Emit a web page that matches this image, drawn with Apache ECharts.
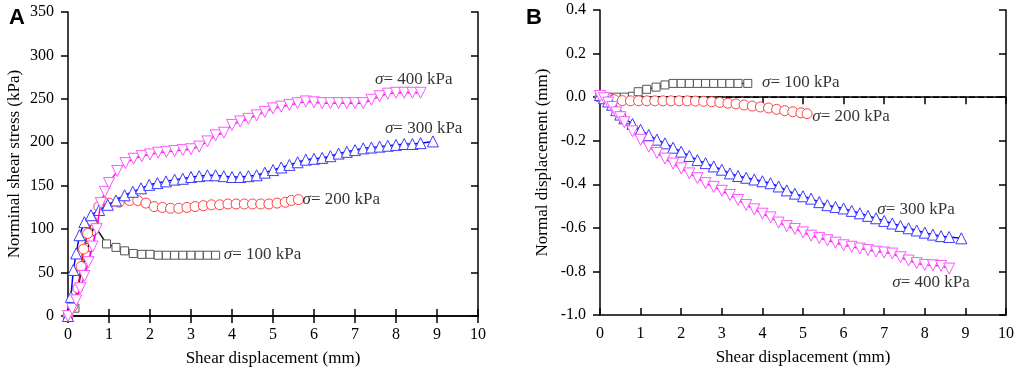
<!DOCTYPE html>
<html><head><meta charset="utf-8">
<script src="https://cdn.jsdelivr.net/npm/echarts@6/dist/echarts.min.js"></script>
<style>html,body{margin:0;padding:0;background:#fff}#c{width:1017px;height:380px}</style>
</head><body><div id="c"></div>
<script>
// ---- Panel A: shear stress (kPa) vs shear displacement (mm)
const a100x = [0, 0.17, 0.32, 0.44, 0.54, 0.64, 0.94, 1.17, 1.38, 1.59, 1.8, 2.0, 2.2, 2.4, 2.6, 2.8, 3.0, 3.2, 3.4, 3.6];
const a100y = [0, 9, 52, 70, 88, 105, 83, 79, 75, 72, 71, 71, 70, 70, 70, 70, 70, 70, 70, 70];
const a200x = [0, 0.11, 0.24, 0.32, 0.38, 0.48, 0.58, 0.75, 1.0, 1.25, 1.5, 1.7, 1.9, 2.1, 2.3, 2.5, 2.7, 2.9, 3.1, 3.3, 3.5, 3.7, 3.9, 4.1, 4.3, 4.5, 4.7, 4.9, 5.1, 5.3, 5.45, 5.62];
const a200y = [0, 11, 32, 57, 77, 95, 110, 126, 130, 131, 133, 133, 130, 126, 125, 124, 124, 125, 126, 127, 128, 128, 129, 129, 129, 129, 129, 129, 130, 131, 133, 134];
const a300x = [0, 0.07, 0.13, 0.2, 0.28, 0.4, 0.56, 0.76, 0.97, 1.17, 1.38, 1.58, 1.78, 1.98, 2.18, 2.39, 2.6, 2.8, 3.0, 3.2, 3.4, 3.6, 3.8, 4.0, 4.2, 4.4, 4.6, 4.8, 5.0, 5.2, 5.4, 5.6, 5.8, 6.0, 6.2, 6.4, 6.6, 6.8, 7.0, 7.2, 7.4, 7.6, 7.8, 8.0, 8.2, 8.4, 8.6, 8.9];
const a300y = [0, 22, 53, 72, 93, 108, 116, 122, 128, 133, 139, 143, 147, 151, 153, 155, 157, 158, 160, 161, 162, 162, 161, 160, 160, 161, 162, 165, 168, 171, 174, 177, 180, 181, 182, 184, 187, 189, 191, 193, 194, 195, 196, 197, 198, 198, 199, 201];
const a400x = [0, 0.1, 0.2, 0.3, 0.4, 0.5, 0.6, 0.7, 0.8, 0.9, 1.0, 1.2, 1.4, 1.6, 1.8, 2.0, 2.2, 2.4, 2.6, 2.8, 3.0, 3.2, 3.4, 3.6, 3.8, 4.0, 4.2, 4.4, 4.6, 4.8, 5.0, 5.2, 5.4, 5.6, 5.8, 6.0, 6.2, 6.4, 6.6, 6.8, 7.0, 7.2, 7.4, 7.6, 7.8, 8.0, 8.2, 8.4, 8.6];
const a400y = [0, 8, 18, 32, 46, 62, 80, 100, 130, 143, 153, 167, 176, 181, 184, 186, 188, 189, 190, 191, 192, 195, 201, 208, 211, 220, 224, 227, 231, 235, 239, 241, 243, 245, 247, 246, 245, 245, 245, 245, 245, 245, 249, 253, 256, 257, 257, 257, 257];
const aLabelX = [3.8, 5.72, 7.73, 7.49];
const aLabelY = [71, 134, 216, 272];

// ---- Panel B: normal displacement (mm) vs shear displacement (mm)
const b100x = [0, 0.2, 0.4, 0.6, 0.8, 0.94, 1.15, 1.38, 1.6, 1.8, 2.0, 2.2, 2.4, 2.6, 2.8, 3.0, 3.2, 3.4, 3.64];
const b100y = [0, 0, 0, 0, 0.004, 0.025, 0.036, 0.046, 0.056, 0.063, 0.063, 0.063, 0.063, 0.063, 0.063, 0.063, 0.063, 0.063, 0.063];
const b200x = [0, 0.15, 0.35, 0.55, 0.75, 0.95, 1.15, 1.35, 1.55, 1.75, 1.95, 2.15, 2.35, 2.55, 2.75, 2.95, 3.15, 3.35, 3.55, 3.75, 3.95, 4.15, 4.35, 4.55, 4.75, 4.95, 5.1];
const b200y = [0, -0.004, -0.012, -0.016, -0.017, -0.017, -0.017, -0.017, -0.017, -0.017, -0.017, -0.017, -0.018, -0.019, -0.021, -0.024, -0.028, -0.031, -0.036, -0.041, -0.045, -0.05, -0.056, -0.062, -0.067, -0.072, -0.076];
const b300x = [0, 0.1, 0.2, 0.3, 0.4, 0.5, 0.6, 0.8, 1.0, 1.2, 1.4, 1.6, 1.8, 2.0, 2.2, 2.4, 2.6, 2.8, 3.0, 3.2, 3.4, 3.6, 3.8, 4.0, 4.2, 4.4, 4.6, 4.8, 5.0, 5.2, 5.4, 5.6, 5.8, 6.0, 6.2, 6.4, 6.6, 6.8, 7.0, 7.2, 7.4, 7.6, 7.8, 8.0, 8.2, 8.4, 8.6, 8.9];
const b300y = [0.01, -0.005, -0.02, -0.035, -0.06, -0.08, -0.097, -0.123, -0.15, -0.174, -0.195, -0.212, -0.232, -0.25, -0.27, -0.289, -0.303, -0.318, -0.333, -0.35, -0.362, -0.37, -0.378, -0.386, -0.395, -0.41, -0.428, -0.443, -0.455, -0.466, -0.482, -0.496, -0.504, -0.511, -0.522, -0.533, -0.545, -0.556, -0.568, -0.58, -0.591, -0.602, -0.612, -0.622, -0.631, -0.638, -0.642, -0.648];
const b400x = [0, 0.1, 0.2, 0.3, 0.4, 0.5, 0.6, 0.8, 1.0, 1.2, 1.4, 1.6, 1.8, 2.0, 2.2, 2.4, 2.6, 2.8, 3.0, 3.2, 3.4, 3.6, 3.8, 4.0, 4.2, 4.4, 4.6, 4.8, 5.0, 5.2, 5.4, 5.6, 5.8, 6.0, 6.2, 6.4, 6.6, 6.8, 7.0, 7.2, 7.4, 7.6, 7.8, 8.0, 8.2, 8.4, 8.6];
const b400y = [0.005, -0.005, -0.025, -0.045, -0.07, -0.092, -0.115, -0.157, -0.196, -0.227, -0.256, -0.282, -0.305, -0.327, -0.35, -0.372, -0.395, -0.412, -0.43, -0.449, -0.472, -0.495, -0.515, -0.535, -0.552, -0.576, -0.592, -0.605, -0.621, -0.636, -0.647, -0.657, -0.668, -0.68, -0.687, -0.695, -0.702, -0.709, -0.713, -0.718, -0.735, -0.75, -0.762, -0.77, -0.772, -0.775, -0.787];
const bLabelX = [3.99, 5.23, 6.83, 7.2];
const bLabelY = [0.066, -0.087, -0.514, -0.85];

const labelTexts = ['100 kPa', '200 kPa', '300 kPa', '400 kPa'];
const zeroLine = [[0, 0], [10, 0]];

const FONT = '"Liberation Serif", "Times New Roman", serif';
const zip = (xs, ys) => xs.map((x, i) => [x, ys[i]]);

const styles = [
  {line: '#111111', sym: '#555555', symbol: 'rect', size: 8, rot: 0},
  {line: '#ff0000', sym: '#ff4040', symbol: 'circle', size: 10, rot: 0},
  {line: '#0000ff', sym: '#3a3aff', symbol: 'triangle', size: 11, rot: 0},
  {line: '#ff00ff', sym: '#ff55ff', symbol: 'triangle', size: 11, rot: 180}
];

function curve(idx, data, g, z) {
  const s = styles[idx];
  return {
    type: 'line', xAxisIndex: g, yAxisIndex: g, data: data,
    symbol: s.symbol, symbolSize: s.size, symbolRotate: s.rot, showAllSymbol: true,
    lineStyle: {color: s.line, width: 1.5},
    itemStyle: {color: '#ffffff', borderColor: s.sym, borderWidth: 1},
    z: z, animation: false, silent: true
  };
}

function labels(xs, ys, g) {
  return {
    type: 'scatter', xAxisIndex: g, yAxisIndex: g, symbolSize: 0, silent: true, animation: false,
    itemStyle: {color: '#000'},
    data: xs.map((x, i) => ({value: [x, ys[i]], label: {formatter: '{s|σ}{n|= ' + labelTexts[i] + '}'}})),
    label: {
      show: true, position: 'right', distance: 0, color: '#000', fontFamily: FONT, fontSize: 17,
      rich: {
        s: {fontStyle: 'italic', fontFamily: FONT, fontSize: 17, color: '#000'},
        n: {fontFamily: FONT, fontSize: 17, color: '#000'}
      }
    },
    z: 20
  };
}

function xAx(g) {
  return [{
    gridIndex: g, type: 'value', min: 0, max: 10, interval: 1,
    name: 'Shear displacement (mm)', nameLocation: 'middle', nameGap: 34,
    nameTextStyle: {fontFamily: FONT, fontSize: 17, color: '#000'},
    axisLine: {show: true, onZero: false, lineStyle: {color: '#000', width: 1.5}},
    axisTick: {show: true, inside: true, length: 7, lineStyle: {color: '#000', width: 1.5}},
    axisLabel: {fontFamily: FONT, fontSize: 16, color: '#000', margin: 11},
    splitLine: {show: false}
  }, {
    gridIndex: g, type: 'value', position: 'top', min: 0, max: 10, interval: 1,
    axisLine: {show: true, lineStyle: {color: '#000', width: 1.5}},
    axisTick: {show: true, inside: true, length: 7, lineStyle: {color: '#000', width: 1.5}},
    axisLabel: {show: false}, splitLine: {show: false}
  }];
}

function yAx(g, min, max, interval, name, gap, fmt) {
  return [{
    gridIndex: g, type: 'value', min: min, max: max, interval: interval,
    name: name, nameLocation: 'middle', nameGap: gap,
    nameTextStyle: {fontFamily: FONT, fontSize: 17, color: '#000'},
    axisLine: {show: true, onZero: false, lineStyle: {color: '#000', width: 1.5}},
    axisTick: {show: true, inside: false, length: 7, lineStyle: {color: '#000', width: 1.5}},
    axisLabel: {fontFamily: FONT, fontSize: 16, color: '#000', margin: 14, formatter: fmt},
    splitLine: {show: false}
  }, {
    gridIndex: g, type: 'value', position: 'right', min: min, max: max, interval: interval,
    axisLine: {show: true, onZero: false, lineStyle: {color: '#000', width: 1.5}},
    axisTick: {show: true, inside: true, length: 7, lineStyle: {color: '#000', width: 1.5}},
    axisLabel: {show: false}, splitLine: {show: false}
  }];
}

const chart = echarts.init(document.getElementById('c'), null, {renderer: 'canvas'});
const xa = xAx(0), xb = xAx(1);
const ya = yAx(0, 0, 350, 50, 'Norminal shear stress (kPa)', 45, v => String(v));
const yb = yAx(1, -1.0, 0.4, 0.2, 'Normal displacement (mm)', 49, v => v.toFixed(1));

const option = {
  backgroundColor: '#fff',
  animation: false,
  title: [
    {text: 'A', left: 4, top: 2, textStyle: {fontFamily: '"Liberation Sans", Arial, sans-serif', fontWeight: 'bold', fontSize: 22, color: '#000'}},
    {text: 'B', left: 521, top: 2, textStyle: {fontFamily: '"Liberation Sans", Arial, sans-serif', fontWeight: 'bold', fontSize: 22, color: '#000'}}
  ],
  grid: [
    {left: 68, top: 12, width: 410, height: 304},
    {left: 600, top: 10, width: 408, height: 305}
  ],
  xAxis: [xa[0], xa[1], xb[0], xb[1]].map((a, i) => Object.assign(a, {gridIndex: i < 2 ? 0 : 1})),
  yAxis: [ya[0], ya[1], yb[0], yb[1]].map((a, i) => Object.assign(a, {gridIndex: i < 2 ? 0 : 1})),
  series: [
    curve(0, zip(a100x, a100y), 0, 5),
    curve(1, zip(a200x, a200y), 0, 6),
    curve(2, zip(a300x, a300y), 0, 7),
    curve(3, zip(a400x, a400y), 0, 8),
    labels(aLabelX, aLabelY, 0),
    {
      type: 'line', xAxisIndex: 2, yAxisIndex: 2, data: zeroLine, symbol: 'none', silent: true, animation: false,
      lineStyle: {color: '#000', width: 1.5, type: 'dashed', dashOffset: 0}, z: 3
    },
    curve(0, zip(b100x, b100y), 2, 5),
    curve(1, zip(b200x, b200y), 2, 6),
    curve(2, zip(b300x, b300y), 2, 7),
    curve(3, zip(b400x, b400y), 2, 8),
    labels(bLabelX, bLabelY, 2)
  ]
};
chart.setOption(option);
</script></body></html>
